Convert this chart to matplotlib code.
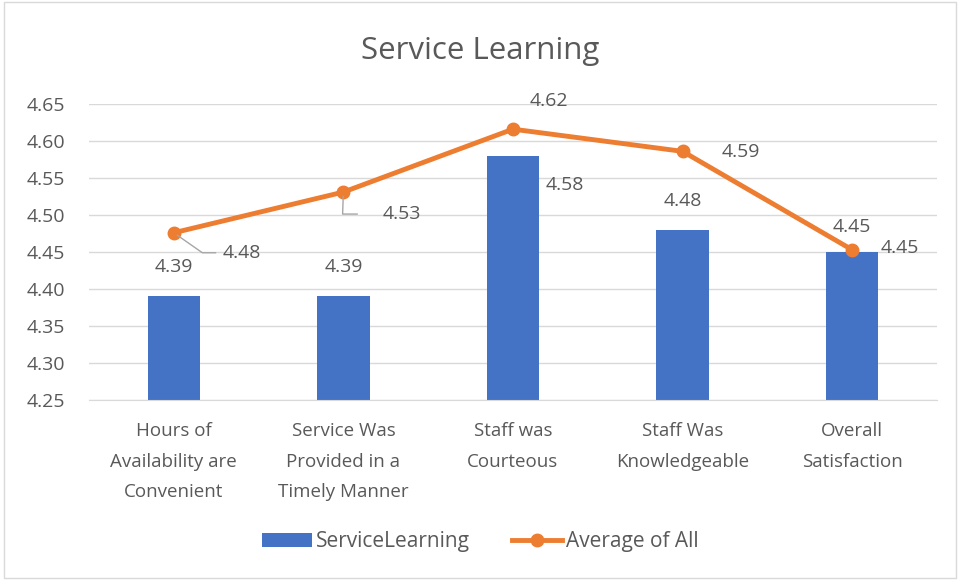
import matplotlib.pyplot as plt
from matplotlib.patches import Rectangle

categories = ["Hours of\nAvailability are\nConvenient",
              "Service Was\nProvided in a\nTimely Manner",
              "Staff was\nCourteous",
              "Staff Was\nKnowledgeable",
              "Overall\nSatisfaction"]
service_learning = [4.39, 4.39, 4.58, 4.48, 4.45]
average_all = [4.476, 4.531, 4.616, 4.586, 4.453]
average_labels = ["4.48", "4.53", "4.62", "4.59", "4.45"]
y_ticks = [4.25, 4.30, 4.35, 4.40, 4.45, 4.50, 4.55, 4.60, 4.65]

blue = "#4472C4"
orange = "#ED7D31"
text_grey = "#595959"
plt.rcParams['font.family'] = ['Open Sans', 'DejaVu Sans']
fs = 14

fig = plt.figure(figsize=(9.6, 5.8), dpi=100)
fig.patches.append(Rectangle((0.004, 0.004), 0.992, 0.992, transform=fig.transFigure,
                             fill=False, edgecolor="#D9D9D9", linewidth=1))
ax = fig.add_axes([0.0927, 0.3103, 0.8833, 0.5104])

x = list(range(len(categories)))
bars = ax.bar(x, service_learning, width=0.31, color=blue, label="ServiceLearning", zorder=2)
line, = ax.plot(x, average_all, color=orange, linewidth=3.5, marker="o", markersize=9,
                label="Average of All", zorder=3)

ax.set_ylim(4.25, 4.65)
ax.set_xlim(-0.5, len(categories) - 0.5)
ax.set_yticks(y_ticks)
ax.set_yticklabels([f"{v:.2f}" for v in y_ticks])
ax.set_xticks(x)
ax.set_xticklabels(categories, linespacing=1.9)
ax.tick_params(axis="both", length=0, labelsize=fs, colors=text_grey)
ax.tick_params(axis="x", pad=16, labelsize=13.5)
ax.tick_params(axis="y", pad=17)
ax.grid(axis="y", color="#D9D9D9", linewidth=1, zorder=0)
for s in ["top", "right", "left"]:
    ax.spines[s].set_visible(False)
ax.spines["bottom"].set_color("#D9D9D9")

# bar value labels (the tall bar's label sits beside it, under the line)
bar_offsets = [(0, 29), (0, 29), (52, -29), (0, 29), (0, 25)]
for xi, v, off in zip(x, service_learning, bar_offsets):
    ax.annotate(f"{v:.2f}", (xi, v), xytext=off, textcoords="offset pixels",
                ha="center", va="center", fontsize=fs, color=text_grey)

# line value labels (offsets in pixels)
offsets = [(68, -20), (58, -22), (36, 28), (58, -1), (48, 2)]
for xi, v, lab, off in zip(x, average_all, average_labels, offsets):
    ax.annotate(lab, (xi, v), xytext=off, textcoords="offset pixels",
                ha="center", va="center", fontsize=fs, color=text_grey)

# leader lines for the first two line labels
ax.annotate("", (0, average_all[0]), xytext=(42, -20), textcoords="offset pixels",
            arrowprops=dict(arrowstyle="-", color="#A6A6A6", lw=1, shrinkA=0, shrinkB=3,
                            connectionstyle="angle,angleA=0,angleB=-35,rad=0"))
ax.annotate("", (1, average_all[1]), xytext=(14, -22), textcoords="offset pixels",
            arrowprops=dict(arrowstyle="-", color="#A6A6A6", lw=1, shrinkA=0, shrinkB=3,
                            connectionstyle="angle,angleA=0,angleB=88,rad=0"))

fig.text(0.5, 0.912, "Service Learning", ha="center", va="center", fontsize=22.5, color=text_grey)
fig.legend(handles=[bars, line], loc="center", bbox_to_anchor=(0.5, 0.066), ncol=2,
           frameon=False, fontsize=15, labelcolor=text_grey, handlelength=2.4,
           columnspacing=2.0, handletextpad=0.2)

fig.savefig("out.png", dpi=100)
